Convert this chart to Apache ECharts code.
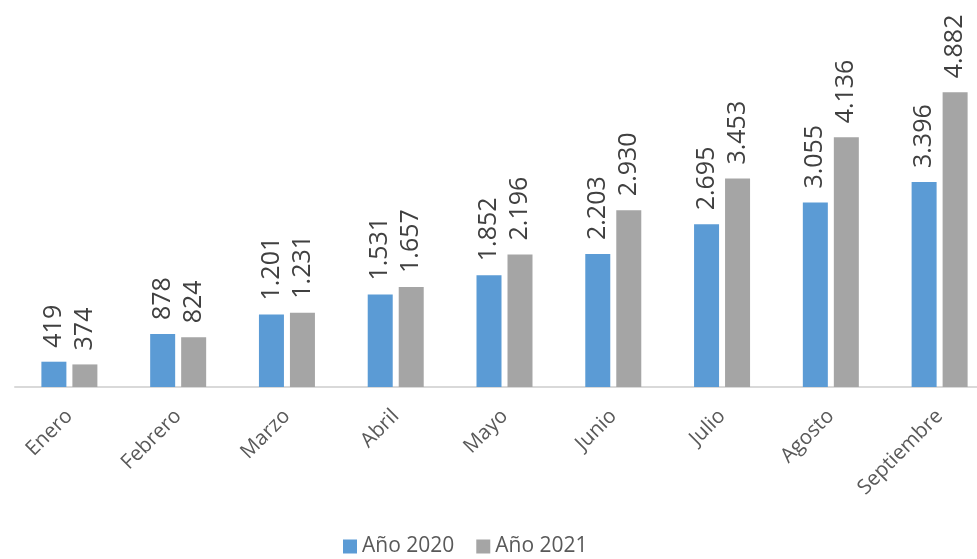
<!DOCTYPE html>
<html><head><meta charset="utf-8">
<script src="https://cdn.jsdelivr.net/npm/echarts@6/dist/echarts.min.js"></script>
<style>html,body{margin:0;padding:0;background:#fff}#c{width:977px;height:559px}</style>
</head><body><div id="c"></div>
<script>
const categories = ['Enero','Febrero','Marzo','Abril','Mayo','Junio','Julio','Agosto','Septiembre'];
const serie2020 = [419, 878, 1201, 1531, 1852, 2203, 2695, 3055, 3396];
const serie2021 = [374, 824, 1231, 1657, 2196, 2930, 3453, 4136, 4882];
const seriesNames = ['Año 2020', 'Año 2021'];

const fmt = v => String(v).replace(/\B(?=(\d{3})+(?!\d))/g, '.');
const font = "'Open Sans', 'Noto Sans', sans-serif";
const chart = echarts.init(document.getElementById('c'));
const lbl = {
  show: true, position: 'top', rotate: 90, align: 'left', verticalAlign: 'middle',
  distance: 14, fontSize: 25, color: '#404040', fontFamily: font,
  formatter: p => fmt(p.value)
};
chart.setOption({
  animation: false,
  grid: { left: 15, width: 979, top: 55, bottom: 172, containLabel: false, outerBoundsMode: 'none' },
  legend: {
    bottom: -3, left: 338, itemWidth: 14, itemHeight: 14, itemGap: 22, icon: 'rect',
    textStyle: { fontSize: 21, color: '#595959', fontFamily: font },
    data: seriesNames
  },
  xAxis: {
    type: 'category', data: categories,
    axisLine: { lineStyle: { color: '#d9d9d9', width: 2 } },
    axisTick: { show: false },
    axisLabel: { rotate: 45, fontSize: 20.5, color: '#595959', fontFamily: font, margin: 26, interval: 0 }
  },
  yAxis: { type: 'value', min: 0, max: 5500, show: false, splitLine: { show: false } },
  series: [
    { name: seriesNames[0], type: 'bar', data: serie2020, barWidth: 25, barGap: '24%',
      itemStyle: { color: '#5B9BD5' }, label: lbl },
    { name: seriesNames[1], type: 'bar', data: serie2021, barWidth: 25, barGap: '24%',
      itemStyle: { color: '#A5A5A5' }, label: lbl }
  ]
});
</script></body></html>
